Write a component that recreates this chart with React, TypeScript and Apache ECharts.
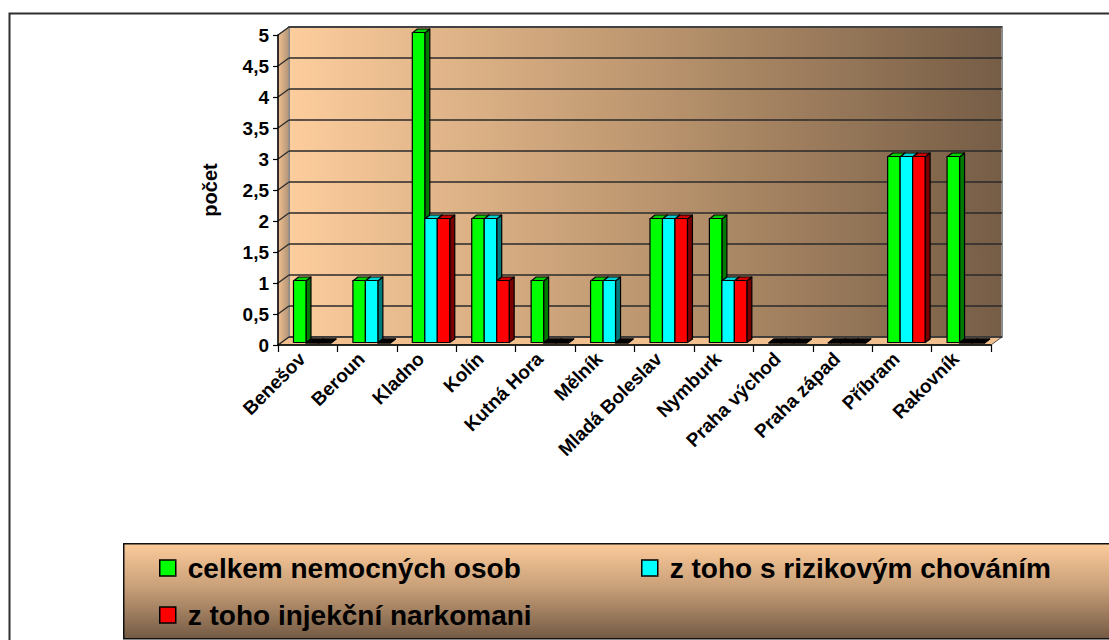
import React, { useEffect, useRef } from "react";
import * as echarts from "echarts";

const categories = [
  "Benešov", "Beroun", "Kladno", "Kolín", "Kutná Hora", "Mělník",
  "Mladá Boleslav", "Nymburk", "Praha východ", "Praha západ", "Příbram", "Rakovník",
];
const celkem = [1, 1, 5, 2, 1, 1, 2, 2, 0, 0, 3, 3];
const rizikove = [0, 1, 2, 2, 0, 1, 2, 1, 0, 0, 3, 0];
const injekcni = [0, 0, 2, 1, 0, 0, 2, 1, 0, 0, 3, 0];
const seriesNames = [
  "celkem nemocných osob",
  "z toho s rizikovým chováním",
  "z toho injekční narkomani",
];
const yTicks = [0, 0.5, 1, 1.5, 2, 2.5, 3, 3.5, 4, 4.5, 5];
const yAxisName = "počet";

const FRONT = ["#00FF00", "#00FFFF", "#FF0000"];
const SIDE = ["#007A00", "#007A7A", "#7A0000"];
const TOP = ["#00D000", "#00D0D0", "#D00000"];

// 3D geometry (pixels)
const DX = 11, DY = -8; // wall depth
const OX = 4.5, OY = -2.5; // bar front plane offset
const BX = 5, BY = -3.5; // bar depth
const FONT = "'Liberation Sans', Arial, sans-serif";

function makeBarRender(s: number) {
  return (params: any, api: any) => {
    const ci = api.value(0);
    const v = api.value(1);
    const base = api.coord([ci, 0]);
    const topP = api.coord([ci, v]);
    const bw = api.size([1, 0])[0];
    const w = bw * 0.21;
    const x0 = base[0] - 1.5 * w + w * s + OX;
    const x1 = x0 + w;
    const yb = base[1] + OY;
    const yt = topP[1] + OY;
    const st = { stroke: "#000", lineWidth: 1.2, lineJoin: "round" };
    const flat = v === 0;
    return {
      type: "group",
      children: [
        {
          type: "polygon",
          shape: { points: [[x1, yt], [x1 + BX, yt + BY], [x1 + BX, yb + BY], [x1, yb]] },
          style: { fill: SIDE[s], ...st },
        },
        {
          type: "polygon",
          shape: { points: [[x0, yt + 0.5], [x0 + BX, yt + BY], [x1 + BX, yt + BY], [x1, yt + 0.5]] },
          style: { fill: flat ? "#000" : TOP[s], ...st, lineWidth: flat ? 1.6 : 1.2 },
        },
        {
          type: "rect",
          shape: { x: x0, y: yt, width: w, height: yb - yt },
          style: { fill: FRONT[s], ...st },
          invisible: flat,
        },
      ],
    };
  };
}

function wallRender(params: any, api: any) {
  const v = api.value(1);
  const band = api.size([1, 0])[0];
  const p = api.coord([0, v]);
  const L = p[0] - band / 2;
  const R = api.coord([categories.length - 1, v])[0] + band / 2;
  const y = p[1];
  const children: any[] = [];
  if (params.dataIndex === 0) {
    const T = api.coord([0, yTicks[yTicks.length - 1]])[1];
    const B = y;
    children.push({
      type: "polygon",
      shape: { points: [[L + DX, T + DY], [R + DX, T + DY], [R + DX, B + DY], [L + DX, B + DY]] },
      style: {
        fill: new echarts.graphic.LinearGradient(0, 0, 1, 0, [
          { offset: 0, color: "#FDCD9D" },
          { offset: 0.5, color: "#BC966F" },
          { offset: 1, color: "#765D46" },
        ]),
        stroke: "#8a8a8a",
        lineWidth: 2,
      },
    });
    children.push({
      type: "polygon",
      shape: { points: [[L, T], [L + DX, T + DY], [L + DX, B + DY], [L, B]] },
      style: {
        fill: new echarts.graphic.LinearGradient(0, 0, 1, 0, [
          { offset: 0, color: "#F2C090" },
          { offset: 1, color: "#B09478" },
        ]),
        stroke: "#8a8a8a",
        lineWidth: 1,
      },
    });
    children.push({
      type: "polygon",
      shape: { points: [[L, B], [L + DX, B + DY], [R + DX, B + DY], [R, B]] },
      style: { fill: "#F2BF8E", stroke: "#555", lineWidth: 1 },
    });
  }
  children.push({
    type: "line",
    shape: { x1: L, y1: y, x2: L + DX, y2: y + DY },
    style: { stroke: "#2a2a2a", lineWidth: 1.2 },
  });
  children.push({
    type: "line",
    shape: { x1: L + DX, y1: y + DY, x2: R + DX, y2: y + DY },
    style: { stroke: "#2a2a2a", lineWidth: 1.3 },
  });
  return { type: "group", children };
}

export default function App() {
  const ref = useRef<HTMLDivElement>(null);
  useEffect(() => {
    if (!ref.current) return;
    const chart = echarts.init(ref.current, undefined, { renderer: "svg" });
    const valueSets = [celkem, rizikove, injekcni];
    const legendPos = [
      { left: 159, top: 554 },
      { left: 641, top: 554 },
      { left: 159, top: 601 },
    ];
    chart.setOption({
      animation: false,
      backgroundColor: "#ffffff",
      textStyle: { fontFamily: FONT },
      graphic: [
        {
          type: "rect",
          left: 7,
          top: 11,
          shape: { width: 1130, height: 700 },
          style: { fill: "none", stroke: "#2e2e2e", lineWidth: 2 },
          z: 0,
          silent: true,
        },
        {
          type: "rect",
          left: 123,
          top: 543,
          shape: { width: 1010, height: 95 },
          style: {
            fill: new echarts.graphic.LinearGradient(0, 0, 0, 1, [
              { offset: 0, color: "#FCCB9B" },
              { offset: 0.45, color: "#C9A079" },
              { offset: 1, color: "#735A44" },
            ]),
            stroke: "#111",
            lineWidth: 1.5,
          },
          z: 0,
          silent: true,
        },
      ],
      legend: seriesNames.map((n, i) => ({
        data: [n],
        left: legendPos[i].left,
        top: legendPos[i].top,
        padding: 0,
        icon: "rect",
        itemWidth: 16,
        itemHeight: 16,
        selectedMode: false,
        itemStyle: { borderColor: "#000", borderWidth: 1.5 },
        textStyle: {
          fontSize: 28,
          fontWeight: "bold",
          color: "#000",
          fontFamily: FONT,
          padding: [0, 0, 0, 7],
        },
      })),
      grid: { left: 278, top: 35, width: 713, height: 310, containLabel: false },
      xAxis: {
        type: "category",
        data: categories,
        z: 10,
        axisLine: { show: true, lineStyle: { color: "#000", width: 1.5 } },
        axisTick: { show: true, length: 7, lineStyle: { color: "#000", width: 1.2 } },
        axisLabel: {
          interval: 0,
          rotate: 45,
          margin: 5,
          padding: [0, 8, 10, 0],
          fontSize: 19,
          fontWeight: "bold",
          color: "#000",
          fontFamily: FONT,
        },
        splitLine: { show: false },
      },
      yAxis: {
        type: "value",
        min: 0,
        max: 5,
        interval: 0.5,
        z: 10,
        name: yAxisName,
        nameLocation: "middle",
        nameRotate: 90,
        nameGap: 58,
        nameTextStyle: { fontSize: 20, fontWeight: "bold", color: "#000", fontFamily: FONT },
        axisLine: { show: true, lineStyle: { color: "#000", width: 1.5 } },
        axisTick: { show: true, length: 5, lineStyle: { color: "#000", width: 1.2 } },
        axisLabel: {
          margin: 9,
          fontSize: 19,
          fontWeight: "bold",
          color: "#000",
          fontFamily: FONT,
          formatter: (v: number) => String(v).replace(".", ","),
        },
        splitLine: { show: false },
      },
      series: [
        {
          type: "custom",
          name: "walls",
          silent: true,
          z: 1,
          renderItem: wallRender,
          data: yTicks.map((v) => [0, v]),
          encode: { x: 0, y: 1 },
        },
        ...seriesNames.map((n, s) => ({
          type: "custom",
          name: n,
          z: 2,
          itemStyle: { color: FRONT[s] },
          renderItem: makeBarRender(s),
          data: categories.map((c, i) => [i, valueSets[s][i]]),
          encode: { x: 0, y: 1 },
        })),
      ],
    });
    return () => chart.dispose();
  }, []);
  return (
    <div
      ref={ref}
      style={{ position: "absolute", left: 0, top: 0, width: 1109, height: 640 }}
    />
  );
}
